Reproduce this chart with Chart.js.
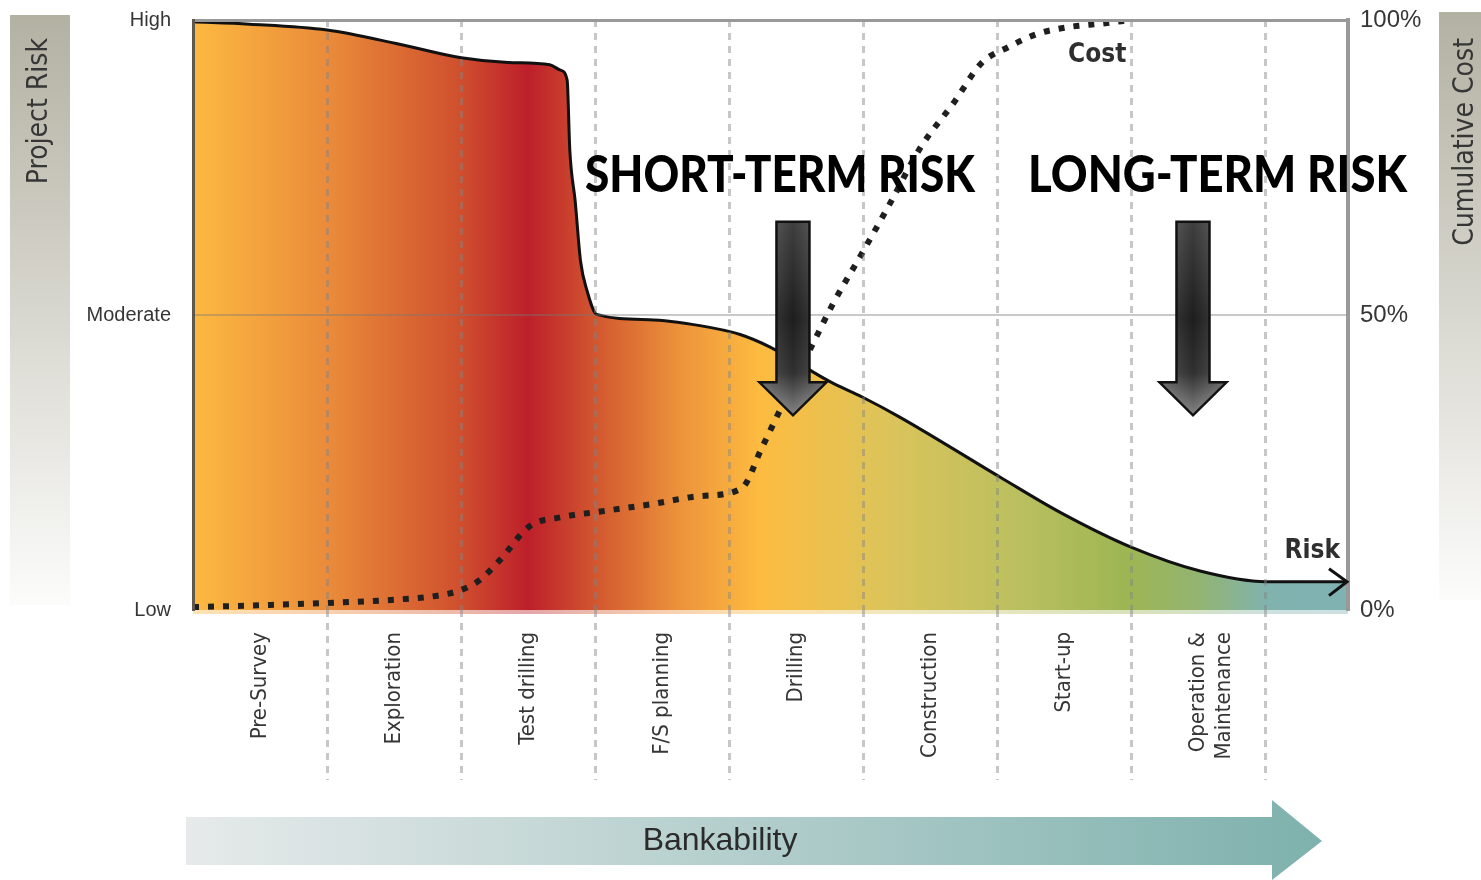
<!DOCTYPE html>
<html>
<head>
<meta charset="utf-8">
<title>Project risk and cumulative cost</title>
<script src="https://cdn.jsdelivr.net/npm/chart.js@4.4.1/dist/chart.umd.min.js"></script>
<style>
  html, body { margin: 0; padding: 0; background: #fff; }
  canvas { display: block; }
</style>
</head>
<body>
<canvas id="canvas" width="1481" height="880"></canvas>
<script>
// phases along the bottom, one per column
var phases = ['Pre-Survey', 'Exploration', 'Test drilling', 'F/S planning', 'Drilling',
              'Construction', 'Start-up', ['Operation &', 'Maintenance']];
var phaseCentres = [0.5, 1.5, 2.5, 3.5, 4.5, 5.5, 6.5, 7.5];
var tickValues = [0, 50, 100];
var riskTicks = ['Low', 'Moderate', 'High'];
var costTicks = ['0%', '50%', '100%'];

// x counts columns (one per phase), y is percent of the axis height
var riskX = [0, 0.42, 1.0, 1.54, 2.0, 2.35, 2.66, 2.74, 2.79, 2.81, 2.85, 2.89, 2.94, 3.01,
             3.4, 3.78, 4.08, 4.3, 4.75, 4.99, 5.27, 6.02, 6.47, 7.0, 7.51, 8.0, 8.613];
var riskY = [99.7, 99.3, 98.3, 95.9, 93.6, 92.8, 92.4, 91.5, 89.8, 77.9, 69.3, 59.1, 54.0, 50.1,
             49.2, 48.2, 46.7, 44.6, 38.7, 36.1, 32.7, 22.5, 16.5, 10.6, 6.6, 4.8, 4.8];
var costX = [0, 0.5, 1.0, 1.54, 1.84, 2.0, 2.14, 2.29, 2.51, 2.74, 3.04, 3.41, 3.78, 4.09,
             4.24, 4.38, 4.62, 4.77, 4.99, 5.2, 5.42, 5.68, 5.88, 6.08, 6.29, 6.53, 6.78, 6.995];
var costY = [0.5, 0.8, 1.2, 1.8, 2.5, 3.4, 5.1, 8.5, 14.2, 15.7, 16.7, 17.9, 19.3, 20.6,
             27.4, 34.0, 45, 51.8, 60.5, 69, 78.2, 86.2, 92.7, 95.4, 97.6, 98.8, 99.4, 100];
var xMax = 8.613;

var NARROW = "'DejaVu Sans Condensed', 'Liberation Sans', sans-serif";
var SANS = "'Liberation Sans', Arial, sans-serif";

var fillStops = [
  [0.00, '#fdb941'], [0.12, '#e98a3a'], [0.23, '#d0502e'], [0.29, '#bd1f2a'],
  [0.35, '#d2582f'], [0.42, '#ec923b'], [0.49, '#fdbb40'], [0.60, '#dcc45a'],
  [0.72, '#b9bf5f'], [0.81, '#9db553'], [0.87, '#93b471'], [0.93, '#80b2ae'], [1.00, '#7fb2b2']
];

function riskGradient(c) {
  var area = c.chart.chartArea;
  if (!area) return '#e98a3a';
  var g = c.chart.ctx.createLinearGradient(area.left, 0, area.right, 0);
  fillStops.forEach(function(s) { g.addColorStop(s[0], s[1]); });
  return g;
}

function points(xs, ys) {
  return xs.map(function(x, i) { return {x: x, y: ys[i]}; });
}

// annotations placed in data units
var notes = [
  {text: 'SHORT-TERM RISK', x: 2.923, y: 70.9, width: 390},
  {text: 'LONG-TERM RISK', x: 6.227, y: 70.9, width: 379}
];
var downArrows = [
  {x: 4.474, top: 65.8, tip: 33.0},
  {x: 7.457, top: 65.8, tip: 33.0}
];

function sideTitle(ctx, text, x, yEnd) {
  ctx.save();
  ctx.translate(x, yEnd);
  ctx.rotate(-Math.PI / 2);
  ctx.textAlign = 'right';
  ctx.textBaseline = 'middle';
  ctx.fillStyle = '#363636';
  ctx.font = '28px ' + NARROW;
  ctx.fillText(text, 0, 0);
  ctx.restore();
}

function titleBox(ctx, x, y, w, h) {
  var g = ctx.createLinearGradient(0, y, 0, y + h);
  g.addColorStop(0, '#b3b1a2');
  g.addColorStop(1, '#fcfcfb');
  ctx.fillStyle = g;
  ctx.fillRect(x, y, w, h);
}

function noEdgePadding(s) {
  s.paddingTop = 0;
  s.paddingBottom = 0;
}

var decorations = {
  id: 'decorations',
  beforeDraw: function(chart) {
    var ctx = chart.ctx, a = chart.chartArea;
    ctx.save();
    titleBox(ctx, 10, 15, 60, 590);
    titleBox(ctx, 1439, 12, 42, 588);
    sideTitle(ctx, 'Project Risk', 40, 38);
    sideTitle(ctx, 'Cumulative Cost', 1466, 38);

    // pale strip just under the risk area
    var g = ctx.createLinearGradient(a.left, 0, a.right, 0);
    fillStops.forEach(function(s) { g.addColorStop(s[0], s[1]); });
    ctx.globalAlpha = 0.4;
    ctx.fillStyle = g;
    ctx.fillRect(a.left, a.bottom, a.right - a.left, 4);
    ctx.globalAlpha = 1;

    // bankability arrow
    var left = a.left - 7, top = 817, bottom = 865, neck = 1272, tip = 1322;
    var bg = ctx.createLinearGradient(left, 0, tip, 0);
    bg.addColorStop(0, '#e6eaea');
    bg.addColorStop(1, '#7eb1ad');
    ctx.fillStyle = bg;
    ctx.beginPath();
    ctx.moveTo(left, top);
    ctx.lineTo(neck, top);
    ctx.lineTo(neck, 800);
    ctx.lineTo(tip, (top + bottom) / 2);
    ctx.lineTo(neck, 880);
    ctx.lineTo(neck, bottom);
    ctx.lineTo(left, bottom);
    ctx.closePath();
    ctx.fill();
    ctx.fillStyle = '#2b2b2b';
    ctx.font = '32px ' + SANS;
    ctx.textAlign = 'center';
    ctx.textBaseline = 'alphabetic';
    ctx.fillText('Bankability', 720, 850);
    ctx.restore();
  },
  afterDraw: function(chart) {
    var ctx = chart.ctx, xs = chart.scales.x, ys = chart.scales.y;
    ctx.save();

    // arrow tip on the risk line
    var meta = chart.getDatasetMeta(1);
    var end = meta.data[meta.data.length - 1];
    ctx.strokeStyle = '#111';
    ctx.lineWidth = 3;
    ctx.beginPath();
    ctx.moveTo(end.x - 19, end.y - 13);
    ctx.lineTo(end.x - 1, end.y);
    ctx.lineTo(end.x - 19, end.y + 14);
    ctx.stroke();

    // big headings
    ctx.fillStyle = '#000';
    ctx.textBaseline = 'alphabetic';
    ctx.textAlign = 'left';
    ctx.font = '900 52px Lato, ' + SANS;
    notes.forEach(function(n) {
      var w = ctx.measureText(n.text).width;
      ctx.save();
      ctx.translate(xs.getPixelForValue(n.x), ys.getPixelForValue(n.y));
      ctx.scale(n.width / w, 1);
      ctx.fillText(n.text, 0, 0);
      ctx.restore();
    });

    // down arrows
    downArrows.forEach(function(d) {
      var cx = xs.getPixelForValue(d.x);
      var y0 = ys.getPixelForValue(d.top);
      var y2 = ys.getPixelForValue(d.tip);
      var y1 = y2 - 33;
      ctx.beginPath();
      ctx.moveTo(cx - 16.5, y0);
      ctx.lineTo(cx + 16.5, y0);
      ctx.lineTo(cx + 16.5, y1);
      ctx.lineTo(cx + 33.5, y1);
      ctx.lineTo(cx, y2);
      ctx.lineTo(cx - 33.5, y1);
      ctx.lineTo(cx - 16.5, y1);
      ctx.closePath();
      var vg = ctx.createLinearGradient(0, y0, 0, y2);
      vg.addColorStop(0, '#4a4a4a');
      vg.addColorStop(0.5, '#232323');
      vg.addColorStop(0.78, '#383838');
      vg.addColorStop(1, '#9a9a9a');
      ctx.fillStyle = vg;
      ctx.fill();
      var hg = ctx.createLinearGradient(cx - 33, 0, cx + 33, 0);
      hg.addColorStop(0, 'rgba(255,255,255,0.18)');
      hg.addColorStop(0.5, 'rgba(0,0,0,0.15)');
      hg.addColorStop(1, 'rgba(255,255,255,0.18)');
      ctx.fillStyle = hg;
      ctx.fill();
      ctx.strokeStyle = '#111';
      ctx.lineWidth = 2.5;
      ctx.lineJoin = 'miter';
      ctx.stroke();
    });

    // series names
    ctx.fillStyle = '#2f2f2f';
    ctx.font = 'bold 26px ' + NARROW;
    ctx.textBaseline = 'middle';
    ctx.textAlign = 'left';
    ctx.fillText('Cost', xs.getPixelForValue(6.525), ys.getPixelForValue(94.0));
    ctx.textAlign = 'right';
    ctx.fillText('Risk', xs.getPixelForValue(8.553), ys.getPixelForValue(10.0));
    ctx.restore();
  }
};

var vGrid = function(c) { return c.index === 0 ? 'rgba(0,0,0,0)' : 'rgba(130,130,130,0.45)'; };

var config = {
  type: 'line',
  data: {
    datasets: [{
      label: 'Cost',
      data: points(costX, costY),
      yAxisID: 'y2',
      borderColor: '#1f1f1f',
      borderWidth: 6,
      borderDash: [6, 9],
      borderCapStyle: 'butt',
      fill: false,
      pointRadius: 0,
      cubicInterpolationMode: 'monotone'
    }, {
      label: 'Risk',
      data: points(riskX, riskY),
      yAxisID: 'y',
      borderColor: '#111',
      borderWidth: 3,
      backgroundColor: riskGradient,
      fill: 'origin',
      pointRadius: 0,
      cubicInterpolationMode: 'monotone'
    }]
  },
  options: {
    responsive: false,
    animation: false,
    layout: { padding: { top: 20, left: 0, right: 0, bottom: 0 } },
    plugins: {
      legend: { display: false },
      tooltip: { enabled: false }
    },
    scales: {
      x: {
        type: 'linear',
        min: 0,
        max: xMax,
        afterBuildTicks: function(s) {
          s.ticks = phaseCentres.map(function(v) { return {value: v}; });
        },
        afterFit: function(s) { s.height = 270; },
        grid: {
          offset: true,
          z: 1,
          color: vGrid,
          tickColor: vGrid,
          lineWidth: 3,
          tickWidth: 3,
          tickLength: 170,
          tickBorderDash: [7, 6]
        },
        border: { display: false, dash: [7, 6] },
        ticks: {
          autoSkip: false,
          minRotation: 90,
          maxRotation: 90,
          padding: -148,
          color: '#363636',
          font: { family: NARROW, size: 22, lineHeight: 1.15 },
          callback: function(v, i) { return phases[i]; }
        }
      },
      y: {
        position: 'left',
        min: 0,
        max: 100,
        afterBuildTicks: function(s) {
          s.ticks = tickValues.map(function(v) { return {value: v}; });
        },
        afterFit: function(s) { s.width = 193; noEdgePadding(s); },
        grid: {
          z: 1,
          drawTicks: false,
          color: function(c) {
            if (c.tick.value === 50) return 'rgba(120,120,120,0.4)';
            if (c.tick.value === 100) return '#999';
            return 'rgba(0,0,0,0)';
          },
          lineWidth: function(c) { return c.tick.value === 100 ? 3 : 2; }
        },
        border: { color: '#5f564c', width: 3, z: 1 },
        ticks: {
          padding: 22,
          color: '#363636',
          font: { family: SANS, size: 20 },
          callback: function(v, i) { return riskTicks[i]; }
        }
      },
      y2: {
        position: 'right',
        min: 0,
        max: 100,
        afterBuildTicks: function(s) {
          s.ticks = tickValues.map(function(v) { return {value: v}; });
        },
        afterFit: function(s) { s.width = 133; noEdgePadding(s); },
        grid: { display: false, drawTicks: false },
        border: { color: '#999', width: 4, z: 1 },
        ticks: {
          padding: 12,
          color: '#363636',
          font: { family: SANS, size: 24 },
          callback: function(v, i) { return costTicks[i]; }
        }
      }
    }
  },
  plugins: [decorations]
};

window.onload = function() {
  window.riskChart = new Chart(document.getElementById('canvas'), config);
};
</script>
</body>
</html>
